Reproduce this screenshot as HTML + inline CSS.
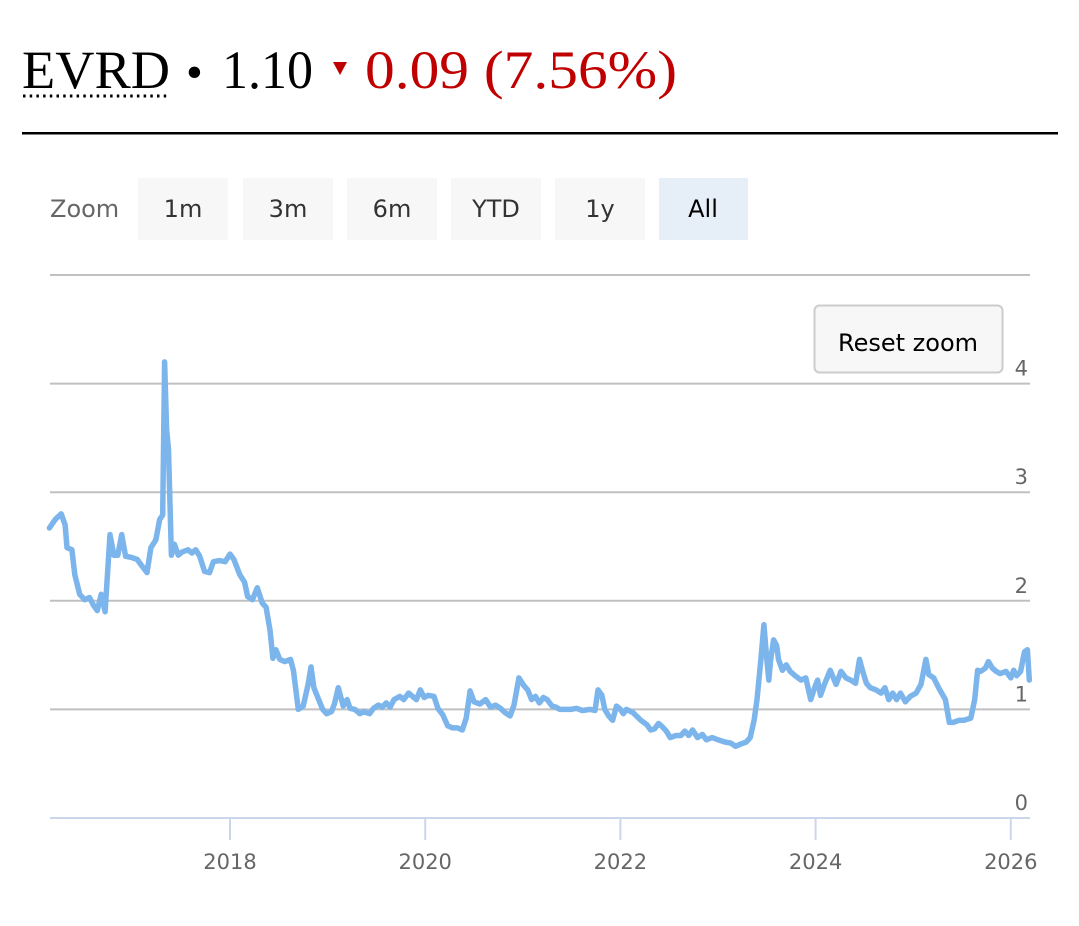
<!DOCTYPE html>
<html><head><meta charset="utf-8">
<style>
body{margin:0;background:#fff;width:1079px;height:926px;overflow:hidden;font-family:"DejaVu Sans","Liberation Sans",sans-serif;}
svg{position:absolute;left:0;top:0}
</style></head>
<body>
<svg width="1079" height="926" viewBox="0 0 1079 926">
  <g font-family="'Liberation Serif',serif" font-size="54">
    <text x="22" y="88" textLength="148" lengthAdjust="spacingAndGlyphs" fill="#000">EVRD</text>
    <line x1="23" y1="96" x2="170" y2="96" stroke="#000" stroke-width="3" stroke-dasharray="2.5 4.2"/>
    <text x="186" y="88" font-size="48" fill="#000">•</text>
    <text x="222" y="88" textLength="91" lengthAdjust="spacingAndGlyphs" fill="#000">1.10</text>
    <polygon points="333,62 347,62 340,75" fill="#c00000"/>
    <text x="365" y="88" textLength="312" lengthAdjust="spacingAndGlyphs" fill="#c00000">0.09 (7.56%)</text>
  </g>
  <rect x="22" y="132" width="1036" height="2.5" fill="#000"/>

  <g font-size="24" fill="#333">
    <text x="50" y="217" fill="#666">Zoom</text>
    <g><rect x="138" y="178" width="90" height="62" fill="#f7f7f7"/><text x="183" y="217" text-anchor="middle">1m</text></g>
    <g><rect x="243" y="178" width="90" height="62" fill="#f7f7f7"/><text x="288" y="217" text-anchor="middle">3m</text></g>
    <g><rect x="347" y="178" width="90" height="62" fill="#f7f7f7"/><text x="392" y="217" text-anchor="middle">6m</text></g>
    <g><rect x="451" y="178" width="90" height="62" fill="#f7f7f7"/><text x="496" y="217" text-anchor="middle">YTD</text></g>
    <g><rect x="555" y="178" width="90" height="62" fill="#f7f7f7"/><text x="600" y="217" text-anchor="middle">1y</text></g>
    <g><rect x="659" y="178" width="89" height="62" fill="#e6eef8"/><text x="703" y="217" text-anchor="middle" fill="#000">All</text></g>
  </g>

  <g id="grid"></g>
  <g id="xaxis"></g>
  <g id="yaxis"></g>
  <path id="line" fill="none" stroke="#7cb5ec" stroke-width="5.5" stroke-linejoin="round" stroke-linecap="round"/>

  <g>
    <rect x="814.5" y="305.5" width="188" height="67" rx="5" fill="#f7f7f7" stroke="#cccccc" stroke-width="2"/>
    <text x="908" y="351" text-anchor="middle" font-size="24" fill="#000">Reset zoom</text>
  </g>
</svg>
<script>
const dates=[2016.15,2016.21,2016.27,2016.31,2016.33,2016.38,2016.41,2016.46,2016.51,2016.56,2016.60,2016.64,2016.68,2016.72,2016.77,2016.81,2016.85,2016.89,2016.93,2016.99,2017.05,2017.09,2017.15,2017.19,2017.24,2017.28,2017.31,2017.33,2017.35,2017.37,2017.40,2017.43,2017.47,2017.51,2017.57,2017.61,2017.65,2017.69,2017.74,2017.79,2017.83,2017.89,2017.95,2018.00,2018.04,2018.10,2018.15,2018.18,2018.23,2018.28,2018.33,2018.37,2018.41,2018.44,2018.47,2018.51,2018.56,2018.62,2018.65,2018.70,2018.75,2018.80,2018.83,2018.86,2018.90,2018.95,2018.99,2019.04,2019.07,2019.11,2019.16,2019.20,2019.23,2019.28,2019.33,2019.37,2019.43,2019.47,2019.52,2019.56,2019.60,2019.64,2019.68,2019.74,2019.78,2019.83,2019.87,2019.91,2019.95,2019.99,2020.03,2020.09,2020.13,2020.18,2020.23,2020.28,2020.33,2020.38,2020.42,2020.46,2020.50,2020.56,2020.62,2020.67,2020.72,2020.77,2020.82,2020.87,2020.91,2020.96,2021.01,2021.05,2021.09,2021.13,2021.17,2021.21,2021.25,2021.30,2021.34,2021.38,2021.42,2021.49,2021.55,2021.61,2021.69,2021.74,2021.77,2021.81,2021.84,2021.88,2021.92,2021.96,2022.00,2022.03,2022.06,2022.13,2022.21,2022.27,2022.31,2022.35,2022.39,2022.43,2022.47,2022.51,2022.57,2022.62,2022.66,2022.70,2022.74,2022.79,2022.84,2022.88,2022.94,2023.00,2023.07,2023.13,2023.18,2023.23,2023.29,2023.33,2023.37,2023.40,2023.44,2023.47,2023.50,2023.52,2023.54,2023.57,2023.60,2023.62,2023.66,2023.70,2023.74,2023.79,2023.85,2023.90,2023.95,2023.99,2024.02,2024.05,2024.09,2024.15,2024.21,2024.26,2024.31,2024.36,2024.41,2024.45,2024.48,2024.52,2024.56,2024.62,2024.67,2024.71,2024.75,2024.79,2024.83,2024.87,2024.92,2024.97,2025.03,2025.08,2025.13,2025.16,2025.21,2025.26,2025.33,2025.37,2025.41,2025.47,2025.52,2025.59,2025.63,2025.66,2025.69,2025.74,2025.77,2025.81,2025.85,2025.89,2025.95,2026.00,2026.03,2026.06,2026.10,2026.14,2026.17,2026.19];
const prices=[2.67,2.75,2.80,2.70,2.49,2.47,2.24,2.06,2.01,2.03,1.96,1.91,2.06,1.90,2.61,2.42,2.42,2.61,2.41,2.40,2.38,2.33,2.26,2.49,2.56,2.75,2.79,4.20,3.58,3.39,2.42,2.52,2.42,2.45,2.47,2.44,2.47,2.41,2.27,2.26,2.36,2.37,2.36,2.43,2.38,2.24,2.17,2.04,2.01,2.12,1.98,1.94,1.73,1.47,1.55,1.46,1.44,1.46,1.36,1.00,1.03,1.23,1.39,1.20,1.11,1.00,0.96,0.98,1.05,1.20,1.03,1.09,1.01,1.00,0.96,0.98,0.96,1.01,1.04,1.02,1.06,1.02,1.09,1.12,1.09,1.15,1.12,1.09,1.18,1.11,1.13,1.12,1.01,0.95,0.85,0.83,0.83,0.81,0.92,1.17,1.07,1.05,1.09,1.02,1.04,1.01,0.97,0.94,1.04,1.29,1.22,1.18,1.09,1.12,1.06,1.11,1.09,1.03,1.02,1.00,1.00,1.00,1.01,0.99,1.00,0.99,1.18,1.13,1.00,0.94,0.90,1.03,1.00,0.96,1.00,0.97,0.90,0.86,0.81,0.82,0.87,0.84,0.80,0.74,0.76,0.76,0.80,0.76,0.81,0.74,0.77,0.72,0.74,0.72,0.70,0.69,0.66,0.68,0.70,0.74,0.90,1.09,1.46,1.78,1.46,1.27,1.46,1.64,1.59,1.46,1.36,1.41,1.35,1.31,1.27,1.29,1.09,1.20,1.27,1.13,1.23,1.36,1.23,1.35,1.29,1.27,1.24,1.46,1.36,1.24,1.20,1.18,1.15,1.20,1.09,1.15,1.09,1.15,1.07,1.12,1.15,1.23,1.46,1.32,1.29,1.20,1.09,0.88,0.88,0.90,0.90,0.92,1.09,1.36,1.35,1.38,1.44,1.38,1.35,1.33,1.35,1.29,1.36,1.31,1.35,1.53,1.55,1.27];
const yTicks=[0,1,2,3,4,5];
const yTickLabels=["0","1","2","3","4",""];
const xTicks=[2018,2020,2022,2024,2026];
const xTickLabels=["2018","2020","2022","2024","2026"];

const NS="http://www.w3.org/2000/svg";
const X0=50,X1=1030,Y0=818,PXV=108.6;
const xs=t=>230+(t-2018)*97.6;
const ys=v=>Y0-v*PXV;
function mk(tag,attrs,parent,txt){const e=document.createElementNS(NS,tag);for(const k in attrs)e.setAttribute(k,attrs[k]);if(txt!==undefined)e.textContent=txt;parent.appendChild(e);return e;}
const grid=document.getElementById('grid'),xa=document.getElementById('xaxis'),ya=document.getElementById('yaxis');
yTicks.forEach((v,i)=>{
  if(v===0)return;
  const l=mk('line',{x1:X0,x2:X1,y1:ys(v),y2:ys(v),stroke:'#c0c0c0','stroke-width':2},grid);
  
  
});
yTicks.forEach((v,i)=>{
  if(!yTickLabels[i])return;
  const t=mk('text',{x:1028,y:ys(v)-8,'text-anchor':'end','font-size':21,fill:'#666'},ya,yTickLabels[i]);
  
  
});
const ax=mk('line',{x1:X0,x2:X1,y1:Y0,y2:Y0,stroke:'#ccd6eb','stroke-width':2},xa);


xTicks.forEach((t,i)=>{
  const tk=mk('line',{x1:xs(t),x2:xs(t),y1:Y0,y2:Y0+22,stroke:'#ccd6eb','stroke-width':2},xa);
  
  
  const lb=mk('text',{x:xs(t),y:869,'text-anchor':'middle','font-size':21,fill:'#666'},xa,xTickLabels[i]);
  
  
});
document.getElementById('line').setAttribute('d',dates.map((t,i)=>(i?'L':'M')+xs(t).toFixed(1)+','+ys(prices[i]).toFixed(1)).join(''));
</script>
</body></html>
